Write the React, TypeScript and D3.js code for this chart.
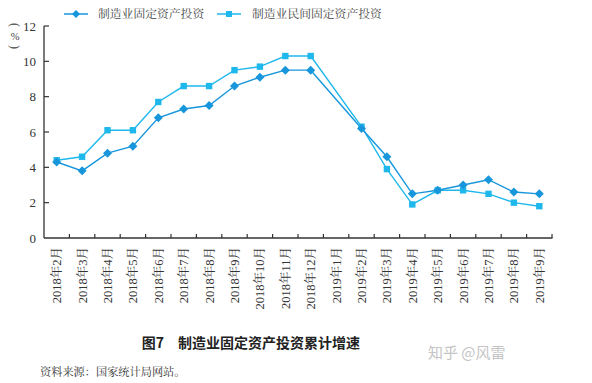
import React from "react";
import * as d3 from "d3";

const categories = [
  "2018年2月", "2018年3月", "2018年4月", "2018年5月", "2018年6月", "2018年7月",
  "2018年8月", "2018年9月", "2018年10月", "2018年11月", "2018年12月",
  "2019年1月", "2019年2月", "2019年3月", "2019年4月", "2019年5月",
  "2019年6月", "2019年7月", "2019年8月", "2019年9月",
];
const manufacturing: (number | null)[] = [
  4.3, 3.8, 4.8, 5.2, 6.8, 7.3, 7.5, 8.6, 9.1, 9.5, 9.5,
  null, 6.2, 4.6, 2.5, 2.7, 3.0, 3.3, 2.6, 2.5,
];
const privateManufacturing: (number | null)[] = [
  4.4, 4.6, 6.1, 6.1, 7.7, 8.6, 8.6, 9.5, 9.7, 10.3, 10.3,
  null, 6.3, 3.9, 1.9, 2.7, 2.7, 2.5, 2.0, 1.8,
];
const yTicks = [0, 2, 4, 6, 8, 10, 12];
const seriesNames = ["制造业固定资产投资", "制造业民间固定资产投资"];

const W = 592, H = 383;
const C1 = "#1796dc";
const C2 = "#1fb8ec";
const serif = "'Liberation Serif', 'Times New Roman', 'Noto Serif CJK SC', 'Noto Sans CJK SC', serif";

export default function App() {
  const x = d3.scaleBand<string>().domain(categories).range([44, 552]);
  const y = d3.scaleLinear().domain([0, 12]).range([238, 26]);
  const cx = (c: string) => (x(c) as number) + x.bandwidth() / 2;

  const mkPts = (vals: (number | null)[]) =>
    categories
      .map((c, i) => ({ c, v: vals[i] }))
      .filter((d) => d.v !== null) as { c: string; v: number }[];
  const line = d3
    .line<{ c: string; v: number }>()
    .x((d) => cx(d.c))
    .y((d) => y(d.v));
  const p1 = mkPts(manufacturing);
  const p2 = mkPts(privateManufacturing);

  const diamond = (px: number, py: number, r = 4.5) =>
    `M${px},${py - r}L${px + r},${py}L${px},${py + r}L${px - r},${py}Z`;

  return (
    <svg
      width={W}
      height={H}
      style={{ position: "absolute", left: 0, top: 0, background: "#fff" }}
    >
      <rect x={0} y={0} width={W} height={H} fill="#fff" />
      {/* legend */}
      <g>
        <line x1={64} x2={88} y1={14} y2={14} stroke={C1} strokeWidth={1.5} />
        <path d={diamond(76, 14, 4)} fill={C1} />
        <text x={98} y={18} fontSize={11.8} fill="#444" fontFamily={serif}>
          {seriesNames[0]}
        </text>
        <line x1={217} x2={241} y1={14} y2={14} stroke={C2} strokeWidth={1.5} />
        <rect x={226} y={11} width={6} height={6} fill={C2} />
        <text x={252} y={18} fontSize={11.8} fill="#444" fontFamily={serif}>
          {seriesNames[1]}
        </text>
      </g>
      {/* unit label */}
      <g fill="#444" fontSize={12} fontFamily={serif} textAnchor="middle" dominantBaseline="central">
        <text x={15} y={25} transform="rotate(90,15,25)">(</text>
        <text x={15} y={36} fontSize={10.5}>%</text>
        <text x={15} y={47} transform="rotate(90,15,47)">)</text>
      </g>
      {/* y axis */}
      <line x1={44} x2={44} y1={26} y2={238} stroke="#333" strokeWidth={1.3} />
      {yTicks.map((t) => (
        <g key={t}>
          {t > 0 && (
            <line x1={44} x2={49} y1={y(t)} y2={y(t)} stroke="#333" strokeWidth={1.2} />
          )}
          <text
            x={36}
            y={y(t) + 4.5}
            textAnchor="end"
            fontSize={13}
            fill="#333"
            fontFamily={serif}
          >
            {t}
          </text>
        </g>
      ))}
      {/* x axis */}
      <line x1={44} x2={552.5} y1={238} y2={238} stroke="#333" strokeWidth={1.3} />
      {categories.map((c) => (
        <g key={c}>
          <line
            x1={(x(c) as number) + x.bandwidth()}
            x2={(x(c) as number) + x.bandwidth()}
            y1={234}
            y2={238}
            stroke="#333"
            strokeWidth={1.2}
          />
          <text
            transform={`translate(${cx(c) + 4.5},${247}) rotate(-90)`}
            textAnchor="end"
            fontSize={12.5}
            fill="#333"
            fontFamily={serif}
          >
            {c}
          </text>
        </g>
      ))}
      {/* lines */}
      <path d={line(p2) || ""} fill="none" stroke={C2} strokeWidth={1.4} />
      <path d={line(p1) || ""} fill="none" stroke={C1} strokeWidth={1.4} />
      {p2.map((d) => (
        <rect key={"s" + d.c} x={cx(d.c) - 3.2} y={y(d.v) - 3.2} width={6.4} height={6.4} fill={C2} />
      ))}
      {p1.map((d) => (
        <path key={"d" + d.c} d={diamond(cx(d.c), y(d.v))} fill={C1} />
      ))}
      {/* title */}
      <text
        x={251}
        y={348}
        textAnchor="middle"
        fontSize={14}
        fontWeight={700}
        fill="#222"
        fontFamily="'Noto Sans CJK SC', sans-serif"
      >
        图7　制造业固定资产投资累计增速
      </text>
      <text
        x={40}
        y={376}
        fontSize={11.2}
        fill="#333"
        fontFamily="'Noto Serif CJK SC', 'Noto Sans CJK SC', serif"
      >
        资料来源：国家统计局网站。
      </text>
      <text
        x={428}
        y={358}
        fontSize={15}
        fill="#c4c4c4"
        fontFamily="'Noto Sans CJK SC', sans-serif"
      >
        知乎 @风雷
      </text>
    </svg>
  );
}
